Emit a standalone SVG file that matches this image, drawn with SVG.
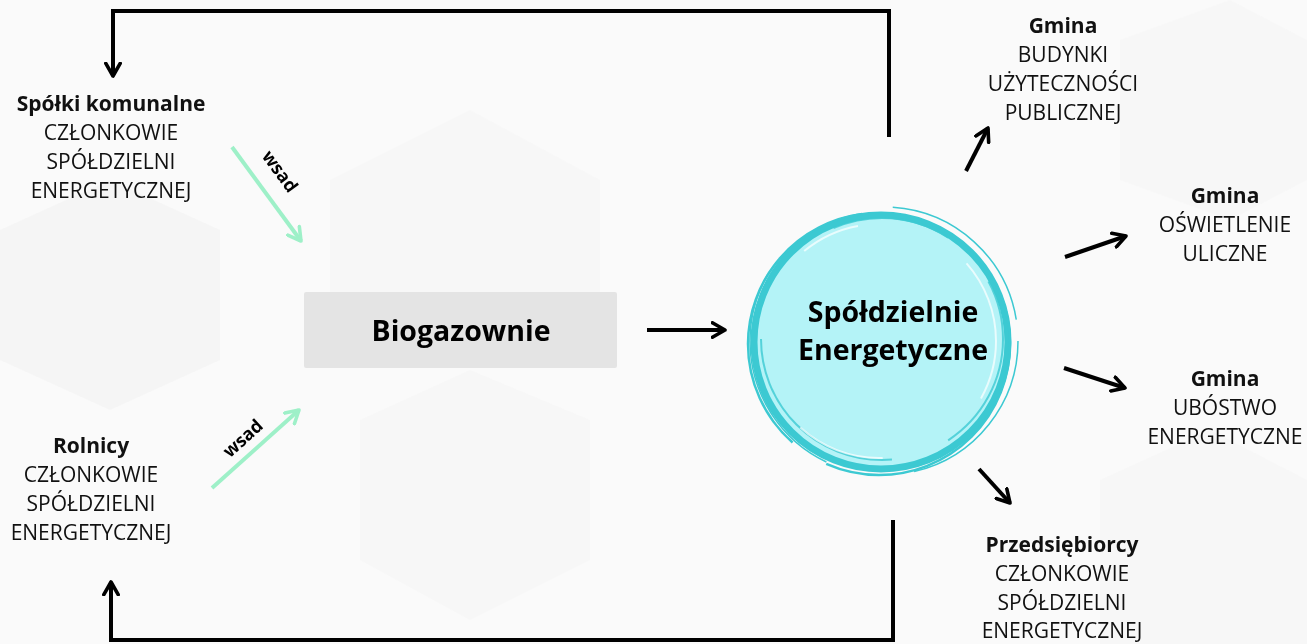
<svg xmlns="http://www.w3.org/2000/svg" width="1307" height="644" viewBox="0 0 1307 644">
<style>
.t{font-family:"Open Sans","Liberation Sans",sans-serif;font-size:21px;fill:#111;text-anchor:middle}
.b{font-weight:700}
.big{font-family:"Open Sans","Liberation Sans",sans-serif;font-size:28.5px;font-weight:700;fill:#000;text-anchor:middle}
.w{font-family:"Open Sans","Liberation Sans",sans-serif;font-size:18px;font-weight:700;fill:#000;text-anchor:middle}
.k{fill:none;stroke:#000;stroke-width:4}
.g{fill:none;stroke:#9ef0c8;stroke-width:4}
.hex{fill:#f1f1f1;stroke:none}
.ring{fill:none;stroke:#3cc9d2}
</style>
<defs>
<marker id="ah" viewBox="0 0 10 10" refX="8" refY="5" markerWidth="4.5" markerHeight="4.5" orient="auto" markerUnits="strokeWidth">
<path d="M1,1 L8,5 L1,9" fill="none" stroke="#000" stroke-width="2" stroke-linecap="round" stroke-linejoin="round"/>
</marker>
<marker id="ag" viewBox="0 0 10 10" refX="8" refY="5" markerWidth="4.5" markerHeight="4.5" orient="auto" markerUnits="strokeWidth">
<path d="M1,1 L8,5 L1,9" fill="none" stroke="#9ef0c8" stroke-width="2" stroke-linecap="round" stroke-linejoin="round"/>
</marker>
</defs>
<rect width="1307" height="644" fill="#fafafa"/>
<g id="background" opacity="0.5">
<polygon class="hex" points="0,230 110,180 220,230 220,360 110,410 0,360"/>
<polygon class="hex" points="330,180 470,110 600,180 600,300 470,360 330,300" opacity="0.5"/>
<polygon class="hex" points="360,420 470,370 590,420 590,560 470,620 360,560" opacity="0.6"/>
<polygon class="hex" points="1120,40 1230,0 1307,40 1307,180 1230,220 1120,180" opacity="0.5"/>
<polygon class="hex" points="1100,480 1210,430 1307,480 1307,644 1100,644" opacity="0.6"/>
</g>
<g id="connectors">
<polyline class="k" points="889,137 889,11 113,11 113,76" marker-end="url(#ah)"/>
<polyline class="k" points="893,520 893,640 111,640 111,582" marker-end="url(#ah)"/>
<line class="k" x1="647" y1="330" x2="725" y2="330" marker-end="url(#ah)"/>
<line class="k" x1="966" y1="171" x2="988" y2="128" marker-end="url(#ah)"/>
<line class="k" x1="1065" y1="257" x2="1126" y2="236" marker-end="url(#ah)"/>
<line class="k" x1="1064" y1="368" x2="1125" y2="388" marker-end="url(#ah)"/>
<line class="k" x1="979" y1="469" x2="1010" y2="503" marker-end="url(#ah)"/>
<line class="g" x1="232" y1="147" x2="301" y2="241" marker-end="url(#ag)"/>
<line class="g" x1="212" y1="488" x2="299" y2="410" marker-end="url(#ag)"/>
<text class="w" transform="translate(275,175) rotate(54)">wsad</text>
<text class="w" transform="translate(247,443) rotate(-42)">wsad</text>
</g>
<g id="spolki">
<text class="t b" x="111" y="111">Spółki komunalne</text>
<text class="t" x="111" y="140">CZŁONKOWIE</text>
<text class="t" x="111" y="169">SPÓŁDZIELNI</text>
<text class="t" x="111" y="198">ENERGETYCZNEJ</text>
</g>
<g id="rolnicy">
<text class="t b" x="91" y="453">Rolnicy</text>
<text class="t" x="91" y="482">CZŁONKOWIE</text>
<text class="t" x="91" y="511">SPÓŁDZIELNI</text>
<text class="t" x="91" y="540">ENERGETYCZNEJ</text>
</g>
<g id="biogazownie">
<rect x="304" y="292" width="313" height="76" rx="2" fill="#e4e4e4"/>
<text class="big" x="461" y="341">Biogazownie</text>
</g>
<g id="spoldzielnie">
<circle cx="881" cy="342" r="127" fill="#b4f3f7"/>
<circle class="ring" cx="881" cy="342" r="127" stroke-width="7"/>
<circle class="ring" cx="879" cy="344" r="131" stroke-width="2.5" stroke-dasharray="260 40 300 60"/>
<circle class="ring" cx="884" cy="341" r="134" stroke-width="1.5" stroke-dasharray="180 90 220 150"/>
<circle class="ring" cx="882" cy="339" r="121" stroke-width="2" stroke-dasharray="120 60 200 140" opacity="0.8"/>
<circle cx="879" cy="341" r="117" fill="none" stroke="#ffffff" stroke-width="2" stroke-dasharray="60 120 90 200" opacity="0.7"/>
<text class="big" x="893" y="322">Spółdzielnie</text>
<text class="big" x="893" y="360">Energetyczne</text>
</g>
<g id="gmina1">
<text class="t b" x="1063" y="33">Gmina</text>
<text class="t" x="1063" y="62">BUDYNKI</text>
<text class="t" x="1063" y="91">UŻYTECZNOŚCI</text>
<text class="t" x="1063" y="120">PUBLICZNEJ</text>
</g>
<g id="gmina2">
<text class="t b" x="1225" y="203">Gmina</text>
<text class="t" x="1225" y="232">OŚWIETLENIE</text>
<text class="t" x="1225" y="261">ULICZNE</text>
</g>
<g id="gmina3">
<text class="t b" x="1225" y="386">Gmina</text>
<text class="t" x="1225" y="415">UBÓSTWO</text>
<text class="t" x="1225" y="444">ENERGETYCZNE</text>
</g>
<g id="przedsiebiorcy">
<text class="t b" x="1062" y="552">Przedsiębiorcy</text>
<text class="t" x="1062" y="581">CZŁONKOWIE</text>
<text class="t" x="1062" y="610">SPÓŁDZIELNI</text>
<text class="t" x="1062" y="638">ENERGETYCZNEJ</text>
</g>
</svg>
